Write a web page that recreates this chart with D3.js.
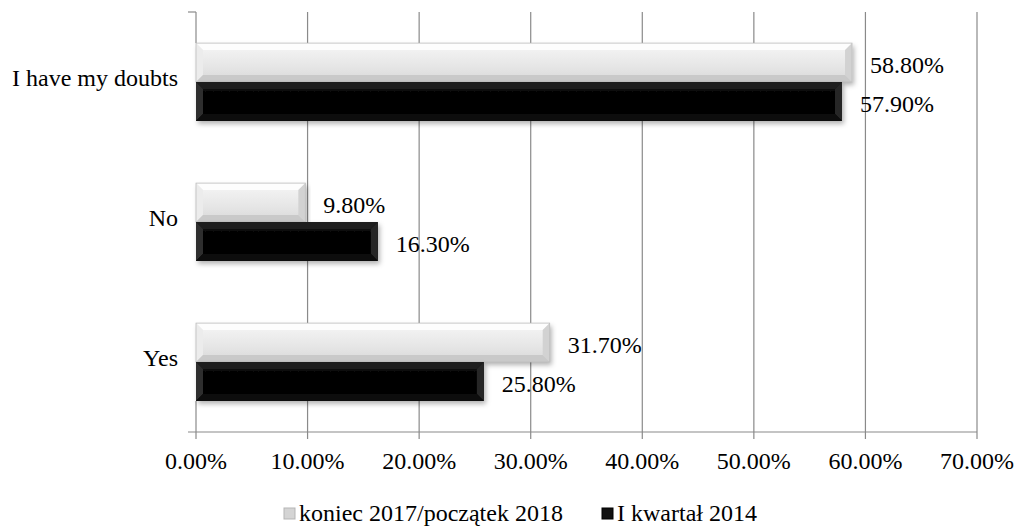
<!DOCTYPE html>
<html>
<head>
	<meta charset="utf-8">
	<title>Bar chart</title>
	<style>
		html, body { margin: 0; padding: 0; background: #fff; }
		svg { display: block; font-family: 'Liberation Serif', 'Times New Roman', serif; }
	</style>
</head>
<body>
	<svg id="chart" width="1019" height="526"></svg>
	<script src="https://cdnjs.cloudflare.com/ajax/libs/d3/7.8.5/d3.min.js"></script>
	<script>
		// data
		var categories = ['I have my doubts', 'No', 'Yes'];
		var seriesNames = ['koniec 2017/początek 2018', 'I kwartał 2014'];
		var series2018 = [58.8, 9.8, 31.7];
		var series2014 = [57.9, 16.3, 25.8];
		var xTicks = [0, 10, 20, 30, 40, 50, 60, 70];

		var svg = d3.select('#chart');
		var mLeft = 196, mRight = 977, mTop = 12, mBottom = 432;
		var fs = 24;

		var x = d3.scaleLinear().domain([0, 70]).range([mLeft, mRight]);
		var y = d3.scaleBand().domain(categories).range([mTop, mBottom]);
		var inner = d3.scaleBand().domain([0, 1]).range([0, y.bandwidth()]).paddingOuter(0.8);

		var grid = '#8a8a8a';

		// gradients + shadow
		var defs = svg.append('defs');
		function grad(id, stops) {
			var g = defs.append('linearGradient').attr('id', id)
				.attr('x1', 0).attr('y1', 0).attr('x2', 0).attr('y2', 1);
			stops.forEach(function (s) { g.append('stop').attr('offset', s[0]).attr('stop-color', s[1]); });
		}
		grad('g-light', [[0, '#f6f6f6'], [0.6, '#e6e6e6'], [1, '#d8d8d8']]);
		grad('g-dark', [[0, '#151515'], [0.3, '#030303'], [1, '#000']]);
		var f = defs.append('filter').attr('id', 'shadow').attr('x', '-5%').attr('y', '-20%').attr('width', '110%').attr('height', '160%');
		f.append('feDropShadow').attr('dx', 2).attr('dy', 3).attr('stdDeviation', 2.5).attr('flood-color', '#000').attr('flood-opacity', 0.3);

		// gridlines
		svg.append('g').selectAll('line').data(xTicks.slice(1)).join('line')
			.attr('x1', function (d) { return x(d); }).attr('x2', function (d) { return x(d); })
			.attr('y1', mTop).attr('y2', mBottom + 7)
			.attr('stroke', grid).attr('stroke-width', 1.2);

		// axis lines (category axis only shows above the first and below the last bar)
		var firstBarTop = y(categories[0]) + inner(0);
		var lastBarBottom = y(categories[categories.length - 1]) + inner(1) + inner.bandwidth();
		svg.append('line').attr('x1', mLeft).attr('x2', mLeft).attr('y1', mTop).attr('y2', firstBarTop)
			.attr('stroke', grid).attr('stroke-width', 1.2);
		svg.append('line').attr('x1', mLeft).attr('x2', mLeft).attr('y1', lastBarBottom).attr('y2', mBottom + 7)
			.attr('stroke', grid).attr('stroke-width', 1.2);
		svg.append('line').attr('x1', mLeft - 8).attr('x2', mLeft).attr('y1', mTop).attr('y2', mTop)
			.attr('stroke', grid).attr('stroke-width', 1.2);
		svg.append('line').attr('x1', mLeft - 8).attr('x2', mRight).attr('y1', mBottom).attr('y2', mBottom)
			.attr('stroke', grid).attr('stroke-width', 1.2);

		// bars
		var rows = [];
		categories.forEach(function (c, i) {
			rows.push({ cat: c, s: 0, v: series2018[i] });
			rows.push({ cat: c, s: 1, v: series2014[i] });
		});

		var bars = svg.append('g').selectAll('g').data(rows).join('g')
			.attr('transform', function (d) { return 'translate(' + mLeft + ',' + (y(d.cat) + inner(d.s)) + ')'; });

		bars.append('rect')
			.attr('width', function (d) { return x(d.v) - mLeft; })
			.attr('height', inner.bandwidth())
			.attr('fill', function (d) { return d.s === 0 ? 'url(#g-light)' : 'url(#g-dark)'; })
			.attr('filter', 'url(#shadow)');

		// bevel edges
		var b = 7;
		bars.each(function (d) {
			var g = d3.select(this);
			var w = x(d.v) - mLeft, h = inner.bandwidth();
			var cols = d.s === 0
				? { t: '#fdfdfd', l: '#ececec', r: '#d2d2d2', bt: '#c9c9c9' }
				: { t: '#1e1e1e', l: '#2e2e2e', r: '#262626', bt: '#0d0d0d' };
			g.append('polygon').attr('points', [[0, 0], [w, 0], [w - b, b], [b, b]].join(' ')).attr('fill', cols.t);
			g.append('polygon').attr('points', [[0, 0], [b, b], [b, h - b], [0, h]].join(' ')).attr('fill', cols.l);
			g.append('polygon').attr('points', [[w, 0], [w, h], [w - b, h - b], [w - b, b]].join(' ')).attr('fill', cols.r);
			g.append('polygon').attr('points', [[0, h], [b, h - b], [w - b, h - b], [w, h]].join(' ')).attr('fill', cols.bt);
			if (d.s === 0) {
				g.append('rect').attr('width', w).attr('height', h)
					.attr('fill', 'none').attr('stroke', '#bdbdbd').attr('stroke-width', 0.8);
			}
		});

		// value labels
		bars.append('text')
			.attr('x', function (d) { return x(d.v) - mLeft + 18; })
			.attr('y', inner.bandwidth() / 2 + 10.5)
			.attr('font-size', fs)
			.attr('fill', '#000')
			.text(function (d) { return d.v.toFixed(2) + '%'; });

		// category labels
		svg.append('g').selectAll('text').data(categories).join('text')
			.attr('x', 178)
			.attr('y', function (d) { return y(d) + y.bandwidth() / 2 + 4; })
			.attr('text-anchor', 'end')
			.attr('font-size', fs)
			.text(function (d) { return d; });

		// x tick labels
		svg.append('g').selectAll('text').data(xTicks).join('text')
			.attr('x', function (d) { return x(d); })
			.attr('y', 469)
			.attr('text-anchor', 'middle')
			.attr('font-size', fs)
			.text(function (d) { return d.toFixed(2) + '%'; });

		// legend
		var legendX = [284, 602];
		var legend = svg.append('g').selectAll('g').data(seriesNames).join('g')
			.attr('transform', function (d, i) { return 'translate(' + legendX[i] + ',521)'; });
		legend.append('rect').attr('x', 0).attr('y', -13).attr('width', 11).attr('height', 11)
			.attr('fill', function (d, i) { return i === 0 ? '#d4d4d4' : '#111'; })
			.attr('stroke', function (d, i) { return i === 0 ? '#b5b5b5' : '#000'; });
		legend.append('text').attr('x', 15).attr('font-size', fs)
			.text(function (d) { return d; });
	</script>
</body>
</html>
